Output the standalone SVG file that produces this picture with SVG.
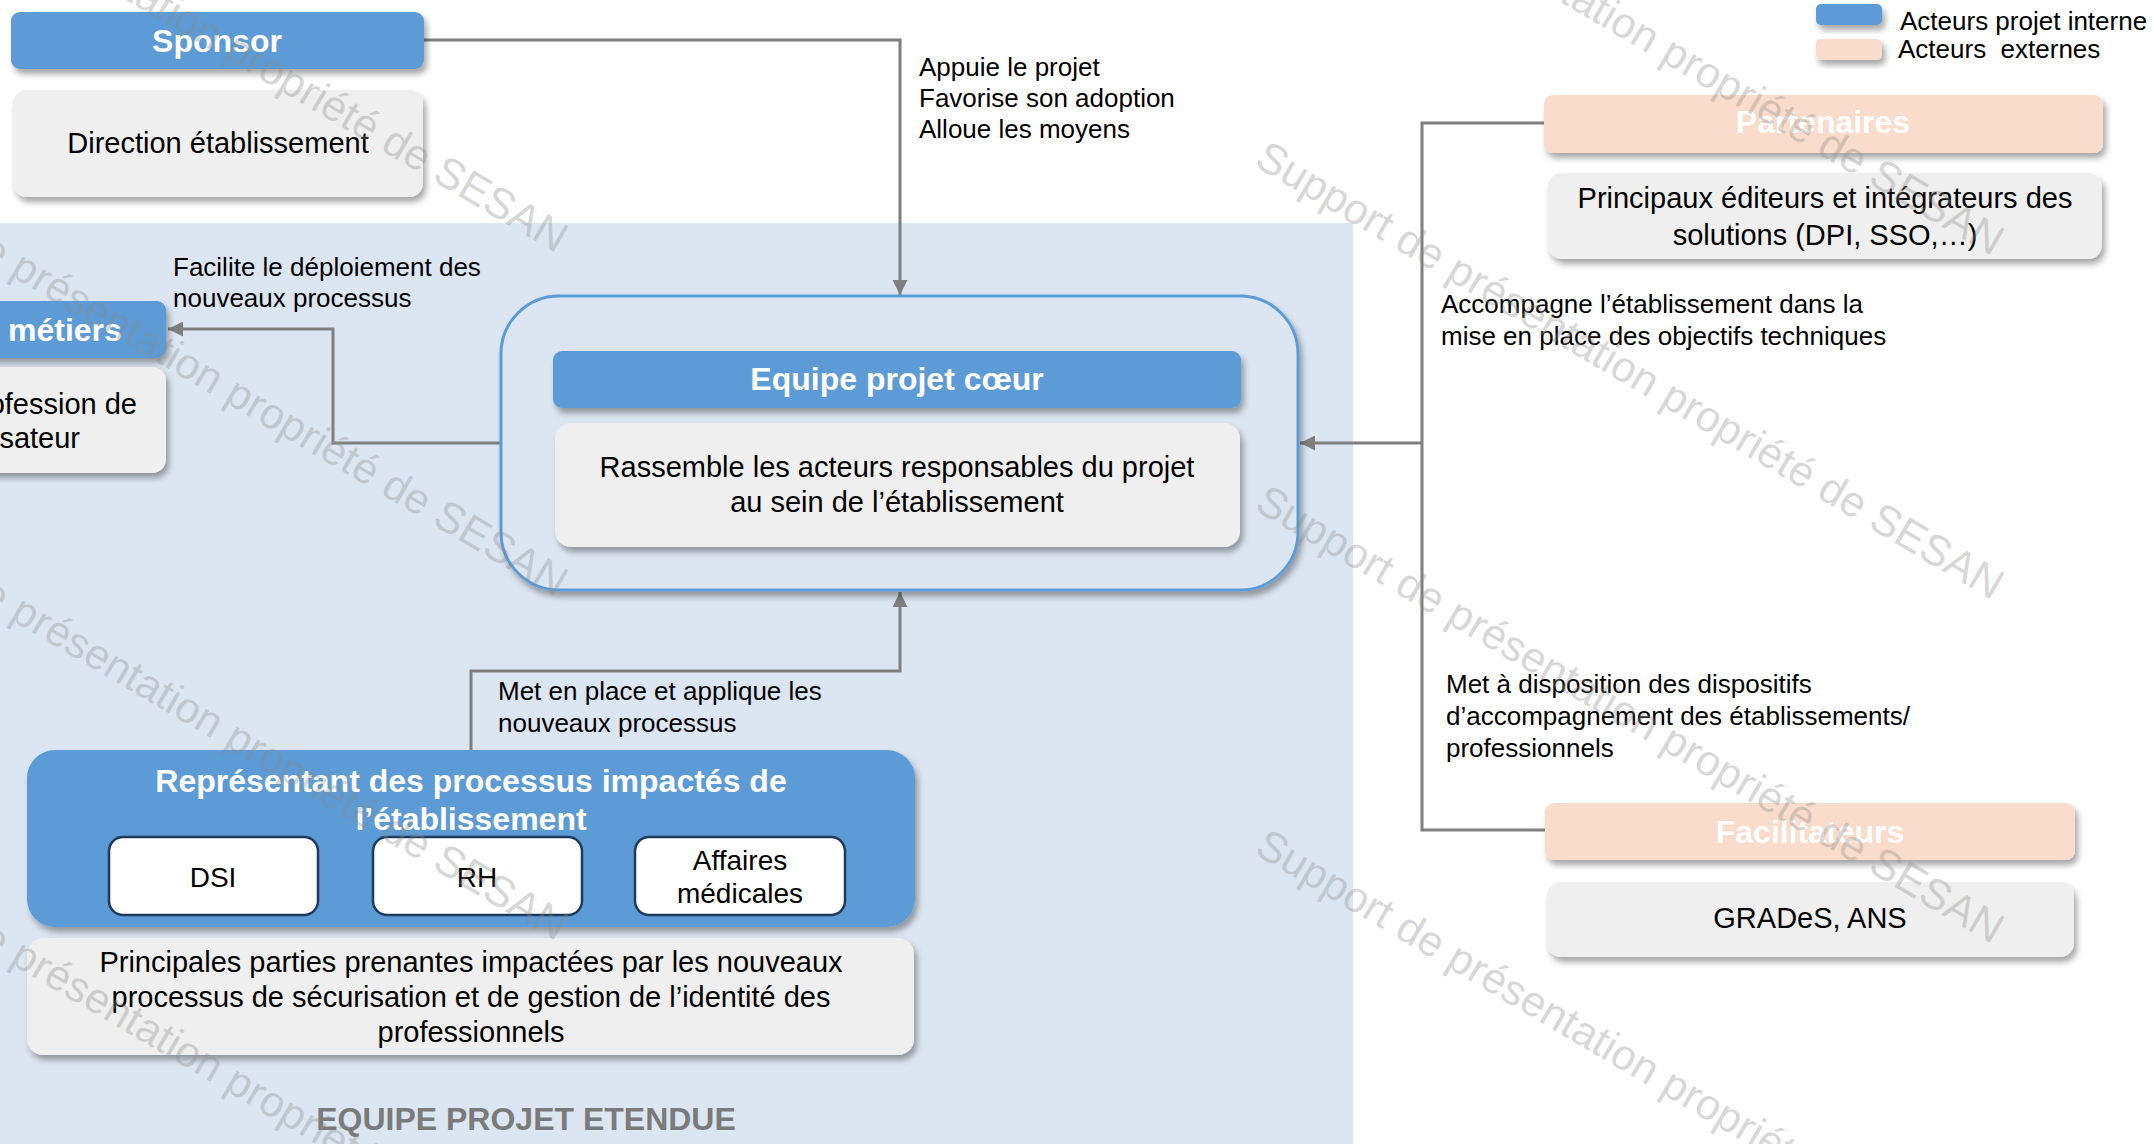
<svg xmlns="http://www.w3.org/2000/svg" width="2154" height="1144" viewBox="0 0 2154 1144">
<defs>
<filter id="sh" x="-10%" y="-20%" width="130%" height="160%"><feDropShadow dx="3" dy="5" stdDeviation="3" flood-color="#000" flood-opacity="0.35"/></filter>
<marker id="ah" viewBox="0 0 10 10" refX="10" refY="5" markerWidth="5" markerHeight="5" orient="auto" markerUnits="strokeWidth"><path d="M0,0 L10,5 L0,10 z" fill="#7f7f7f"/></marker>
<style>
text{font-family:"Liberation Sans",Arial,Helvetica,sans-serif;}
.hb{fill:#5b9bd5;filter:url(#sh);}
.hp{fill:#f9dccb;filter:url(#sh);}
.bd{fill:#efefef;filter:url(#sh);}
.ht{font-size:32px;font-weight:bold;fill:#fff;text-anchor:middle;}
.bt{font-size:29px;fill:#000;text-anchor:middle;}
.lb{font-size:26px;fill:#000;}
.sb{fill:#fff;stroke:#1f3a5f;stroke-width:2.5;}
.st{font-size:28px;fill:#000;text-anchor:middle;}
.cn{fill:none;stroke:#7f7f7f;stroke-width:3;}
.wm{font-size:43px;fill:#8c8c8c;fill-opacity:0.35;}
</style>
</defs>
<rect x="0" y="0" width="2154" height="1144" fill="#fff"/>
<rect x="0" y="223" width="1353" height="921" fill="#dce6f2"/>

<g id="legend">
<rect x="1816" y="4" width="66" height="21" rx="5" class="hb"/>
<rect x="1816" y="39" width="66" height="21" rx="5" class="hp"/>
<text class="lb" x="1900" y="30">Acteurs projet interne</text>
<text class="lb" x="1898" y="58" xml:space="preserve">Acteurs  externes</text>
</g>

<g id="connectors">
<path class="cn" d="M424,40 H900 V295" marker-end="url(#ah)"/>
<path class="cn" d="M501,443 H333 V329 H168" marker-end="url(#ah)"/>
<path class="cn" d="M1544,123 H1422 V830 H1545 M1422,443 H1300" marker-end="url(#ah)"/>
<path class="cn" d="M471,750 V671 H900 V592" marker-end="url(#ah)"/>
<text class="lb" x="919" y="76">Appuie le projet</text>
<text class="lb" x="919" y="107">Favorise son adoption</text>
<text class="lb" x="919" y="138">Alloue les moyens</text>
<text class="lb" x="173" y="276">Facilite le déploiement des</text>
<text class="lb" x="173" y="307">nouveaux processus</text>
<text class="lb" x="1441" y="313">Accompagne l’établissement dans la</text>
<text class="lb" x="1441" y="345">mise en place des objectifs techniques</text>
<text class="lb" x="1446" y="693">Met à disposition des dispositifs</text>
<text class="lb" x="1446" y="725">d’accompagnement des établissements/</text>
<text class="lb" x="1446" y="757">professionnels</text>
<text class="lb" x="498" y="700">Met en place et applique les</text>
<text class="lb" x="498" y="732">nouveaux processus</text>
</g>

<g id="sponsor">
<rect x="11" y="12" width="413" height="57" rx="9" class="hb"/>
<text class="ht" x="217" y="52">Sponsor</text>
<rect x="13" y="90" width="410" height="107" rx="14" class="bd"/>
<text class="bt" x="218" y="153">Direction établissement</text>
</g>

<g id="metiers">
<rect x="-20" y="301" width="186" height="57" rx="9" class="hb"/>
<text class="ht" x="8" y="341" style="text-anchor:start">métiers</text>
<rect x="-20" y="367" width="186" height="106" rx="14" class="bd"/>
<text class="bt" x="137" y="414" style="text-anchor:end">ofession de</text>
<text class="bt" x="80" y="448" style="text-anchor:end">sateur</text>
</g>

<g id="equipe-coeur">
<rect x="501" y="296" width="797" height="294" rx="58" fill="#dce6f2" stroke="#5b9bd5" stroke-width="3" filter="url(#sh)"/>
<rect x="553" y="351" width="688" height="57" rx="9" class="hb"/>
<text class="ht" x="897" y="390">Equipe projet cœur</text>
<rect x="555" y="423" width="685" height="124" rx="16" class="bd"/>
<text class="bt" x="897" y="477">Rassemble les acteurs responsables du projet</text>
<text class="bt" x="897" y="512">au sein de l’établissement</text>
</g>

<g id="partenaires">
<rect x="1544" y="95" width="559" height="58" rx="9" class="hp"/>
<text class="ht" x="1823" y="133">Partenaires</text>
<rect x="1548" y="173" width="554" height="86" rx="14" class="bd"/>
<text class="bt" x="1825" y="208">Principaux éditeurs et intégrateurs des</text>
<text class="bt" x="1825" y="245">solutions (DPI, SSO,…)</text>
</g>

<g id="facilitateurs">
<rect x="1545" y="803" width="530" height="57" rx="9" class="hp"/>
<text class="ht" x="1810" y="843">Facilitateurs</text>
<rect x="1547" y="882" width="527" height="75" rx="14" class="bd"/>
<text class="bt" x="1810" y="928">GRADeS, ANS</text>
</g>

<g id="representant">
<rect x="27" y="750" width="888" height="177" rx="28" class="hb"/>
<text class="ht" x="471" y="792">Représentant des processus impactés de</text>
<text class="ht" x="471" y="830">l’établissement</text>
<g id="dsi"><rect x="109" y="837" width="209" height="78" rx="14" class="sb"/><text class="st" x="213" y="887">DSI</text></g>
<g id="rh"><rect x="373" y="837" width="209" height="78" rx="14" class="sb"/><text class="st" x="477" y="887">RH</text></g>
<g id="affaires"><rect x="635" y="837" width="210" height="78" rx="14" class="sb"/><text class="st" x="740" y="870">Affaires</text><text class="st" x="740" y="903">médicales</text></g>
<rect x="27" y="938" width="887" height="117" rx="16" class="bd"/>
<text class="bt" x="471" y="972">Principales parties prenantes impactées par les nouveaux</text>
<text class="bt" x="471" y="1007">processus de sécurisation et de gestion de l’identité des</text>
<text class="bt" x="471" y="1042">professionnels</text>
</g>

<text x="526" y="1130" style="font-size:32px;font-weight:bold;fill:#7a7a7a;text-anchor:middle">EQUIPE PROJET ETENDUE</text>

<g id="watermarks">
<text class="wm" transform="translate(-183,-182) rotate(30.5)">Support de présentation propriété de SESAN</text>
<text class="wm" transform="translate(-183,162) rotate(30.5)">Support de présentation propriété de SESAN</text>
<text class="wm" transform="translate(-183,506) rotate(30.5)">Support de présentation propriété de SESAN</text>
<text class="wm" transform="translate(-183,850) rotate(30.5)">Support de présentation propriété de SESAN</text>
<text class="wm" transform="translate(1253,-179) rotate(30.5)">Support de présentation propriété de SESAN</text>
<text class="wm" transform="translate(1253,165) rotate(30.5)">Support de présentation propriété de SESAN</text>
<text class="wm" transform="translate(1253,509) rotate(30.5)">Support de présentation propriété de SESAN</text>
<text class="wm" transform="translate(1253,853) rotate(30.5)">Support de présentation propriété de SESAN</text>
</g>
</svg>
